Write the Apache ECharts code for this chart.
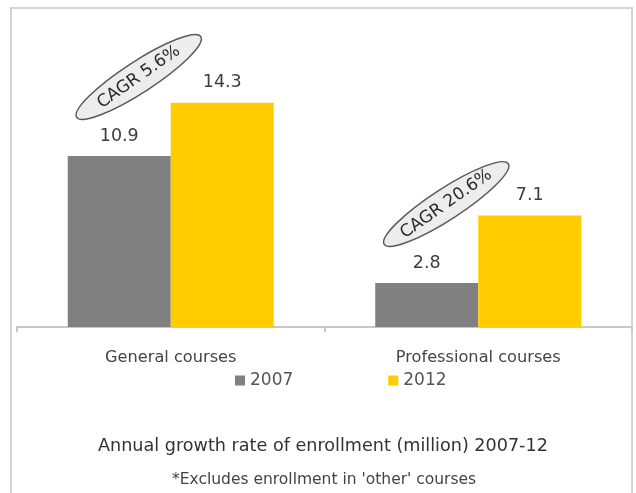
<!DOCTYPE html>
<html><head><meta charset="utf-8">
<script src="https://cdn.jsdelivr.net/npm/echarts@6/dist/echarts.min.js"></script>
<style>html,body{margin:0;padding:0;background:#fff}#c{width:636px;height:493px}</style>
</head><body><div id="c"></div>
<script>
const categories = ['General courses', 'Professional courses'];
const values2007 = [10.9, 2.8];
const values2012 = [14.3, 7.1];
const seriesNames = ['2007', '2012'];
const cagrLabels = ['CAGR 5.6%', 'CAGR 20.6%'];
const titleText = 'Annual growth rate of enrollment (million) 2007-12';
const footnoteText = "*Excludes enrollment in 'other' courses";

const FONT = 'DejaVu Sans';
const chart = echarts.init(document.getElementById('c'), null, {renderer: 'canvas'});
const labelStyle = {show: true, position: 'top', distance: 11, color: '#3d3d3d', fontSize: 17.5, fontFamily: FONT};
chart.setOption({
  animation: false,
  grid: {left: 17, right: 4, top: 76, bottom: 166},
  xAxis: {
    type: 'category', data: categories,
    axisLine: {lineStyle: {color: '#c8c8c8', width: 2}},
    axisTick: {show: true, length: 5, lineStyle: {color: '#c8c8c8', width: 2}},
    axisLabel: {margin: 23, color: '#444', fontSize: 16.2, fontFamily: FONT}
  },
  yAxis: {type: 'value', min: 0, max: 16, show: false, splitLine: {show: false}},
  legend: {
    data: seriesNames, left: 230, top: 367, icon: 'rect', itemWidth: 10, itemHeight: 10,
    itemGap: 95, textStyle: {color: '#555', fontSize: 17, fontFamily: FONT}
  },
  title: [
    {text: titleText, left: 93, top: 432, textStyle: {fontSize: 17.6, fontWeight: 'normal', color: '#333', fontFamily: FONT}},
    {text: footnoteText, left: 167, top: 467, textStyle: {fontSize: 15.5, fontWeight: 'normal', color: '#444', fontFamily: FONT}}
  ],
  series: [
    {name: seriesNames[0], type: 'bar', data: values2007, barGap: '0%', barCategoryGap: '33%', itemStyle: {color: '#808080'}, label: labelStyle},
    {name: seriesNames[1], type: 'bar', data: values2012, barGap: '0%', barCategoryGap: '33%', itemStyle: {color: '#FFCC00'}, label: labelStyle}
  ]
});

const graphics = [{
  type: 'rect', shape: {x: 11, y: 8, width: 621, height: 495},
  style: {fill: 'none', stroke: '#d4d4d4', lineWidth: 2}, silent: true, z: -1
}];
categories.forEach((c, i) => {
  const p = chart.convertToPixel({xAxisIndex: 0, yAxisIndex: 0}, [c, values2007[i]]);
  graphics.push({
    type: 'group', x: p[0] - 32, y: p[1] - 79, rotation: 33 * Math.PI / 180,
    children: [
      {type: 'ellipse', shape: {cx: 0, cy: 0, rx: 74, ry: 15.5}, style: {fill: '#ededed', stroke: '#5a5a5a', lineWidth: 1.5}},
      {type: 'text', x: 0, y: 0, rotation: 2 * Math.PI / 180, style: {text: cagrLabels[i], fill: '#2a2a2a', font: '17px "DejaVu Sans"', textAlign: 'center', textVerticalAlign: 'middle'}}
    ]
  });
});
chart.setOption({graphic: graphics});
</script></body></html>
